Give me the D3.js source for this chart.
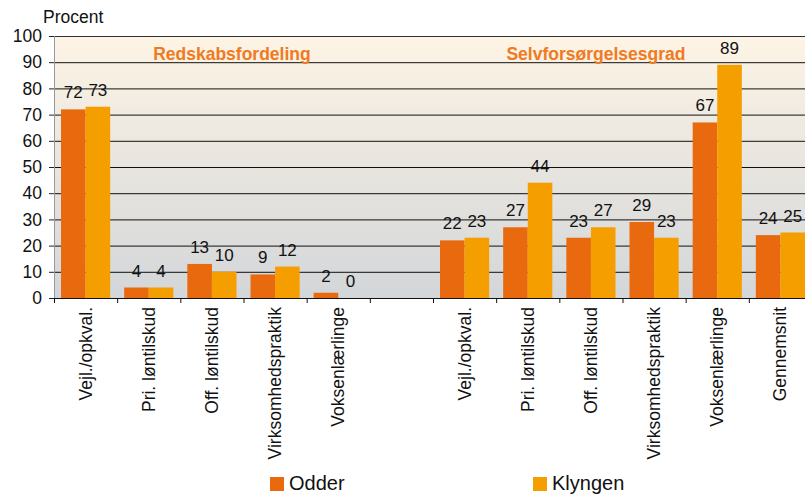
<!DOCTYPE html>
<html><head><meta charset="utf-8">
<script src="https://cdn.jsdelivr.net/npm/d3@7"></script>
<style>body{margin:0;background:#fff}svg{display:block;font-family:"Liberation Sans",Arial,sans-serif}</style>
</head><body><svg id="c" width="805" height="495"></svg>
<script>
const categories = ["Vejl./opkval.","Pri. løntilskud","Off. løntilskud","Virksomhedspraktik","Voksenlærlinge","",
  "Vejl./opkval.","Pri. løntilskud","Off. løntilskud","Virksomhedspraktik","Voksenlærlinge","Gennemsnit"];
const odder   = [72,4,13,9,2,null,22,27,23,29,67,24];
const klyngen = [73,4,10,12,0,null,23,44,27,23,89,25];
const seriesNames = ["Odder","Klyngen"];
const groupTitles = ["Redskabsfordeling","Selvforsørgelsesgrad"];
const yTicks = [0,10,20,30,40,50,60,70,80,90,100];

const FF = "Liberation Sans, Arial, sans-serif";
const colors = ["#e96a0e","#f59e00"];
const svg = d3.select("#c");
const L=54, R=812, T=36, B=298;
const x = d3.scaleBand().domain(d3.range(categories.length)).range([L,R]).paddingInner(0).paddingOuter(0);
const y = d3.scaleLinear().domain([0,100]).range([B,T]);
const inner = d3.scaleBand().domain([0,1]).range([7, x.bandwidth()-7]);

const defs = svg.append("defs");
const g = defs.append("linearGradient").attr("id","bg").attr("x1",0).attr("y1",0).attr("x2",0).attr("y2",1);
g.append("stop").attr("offset","0%").attr("stop-color","#fdf4e5");
g.append("stop").attr("offset","100%").attr("stop-color","#d3d6d9");
svg.append("rect").attr("x",L).attr("y",T).attr("width",R-L).attr("height",B-T).attr("fill","url(#bg)");

// gridlines
svg.append("g").selectAll("line").data(yTicks.filter(d=>d>0)).join("line")
  .attr("x1",L).attr("x2",R).attr("y1",d=>y(d)+0.5).attr("y2",d=>y(d)+0.5)
  .attr("stroke",d=>d===100?"#333":"#111").attr("stroke-width",1);

// y axis
const ya = svg.append("g").attr("transform",`translate(${L},0)`)
  .call(d3.axisLeft(y).tickValues(yTicks).tickSize(5).tickPadding(7));
ya.attr("font-family",FF);
ya.select(".domain").attr("stroke","#999");
ya.selectAll("text").attr("font-size",17.5).attr("fill","#111");
ya.selectAll(".tick line").attr("stroke","#222");

svg.append("text").attr("x",43).attr("y",23).attr("font-size",17.5).attr("fill","#111").text("Procent");

// bars
const data = categories.map((c,i)=>({i, vals:[odder[i],klyngen[i]]}));
const grp = svg.append("g").selectAll("g").data(data.filter(d=>d.vals[0]!==null)).join("g")
  .attr("transform",d=>`translate(${x(d.i)},0)`);
grp.selectAll("rect").data(d=>d.vals.map((v,k)=>({v,k}))).join("rect")
  .attr("x",d=>inner(d.k)).attr("width",inner.bandwidth())
  .attr("y",d=>y(d.v)).attr("height",d=>B-y(d.v)).attr("fill",d=>colors[d.k]);
grp.selectAll("text").data(d=>d.vals.map((v,k)=>({v,k}))).join("text")
  .attr("x",d=>inner(d.k)+inner.bandwidth()/2).attr("y",d=>y(d.v)-11)
  .attr("text-anchor","middle").attr("font-size",17).attr("fill","#111").text(d=>d.v);

// x axis
svg.append("line").attr("x1",L).attr("x2",R).attr("y1",B+0.5).attr("y2",B+0.5).attr("stroke","#111");
svg.append("g").selectAll("line").data(d3.range(categories.length+1)).join("line")
  .attr("x1",d=>L+d*x.bandwidth()+0.5).attr("x2",d=>L+d*x.bandwidth()+0.5)
  .attr("y1",B).attr("y2",B+5).attr("stroke","#111");
svg.append("g").selectAll("text").data(categories.map((c,i)=>({c,i})).filter(d=>d.c)).join("text")
  .attr("transform",d=>`translate(${x(d.i)+x.bandwidth()/2+6},${B+9}) rotate(-90)`)
  .attr("text-anchor","end").attr("font-size",17.5).attr("fill","#111").text(d=>d.c);

// group titles
svg.append("text").attr("x",x(2)+x.bandwidth()/2+20).attr("y",60).attr("text-anchor","middle")
  .attr("font-size",17.5).attr("font-weight","bold").attr("fill","#f07a22").text(groupTitles[0]);
svg.append("text").attr("x",x(8)+x.bandwidth()/2+5).attr("y",60).attr("text-anchor","middle")
  .attr("font-size",17.5).attr("font-weight","bold").attr("fill","#f07a22").text(groupTitles[1]);

// legend
const lx=[270,533];
seriesNames.forEach((n,k)=>{
  svg.append("rect").attr("x",lx[k]).attr("y",477).attr("width",14).attr("height",14).attr("fill",colors[k]);
  svg.append("text").attr("x",lx[k]+19).attr("y",490).attr("font-size",20).attr("fill","#111").text(n);
});
</script></body></html>
